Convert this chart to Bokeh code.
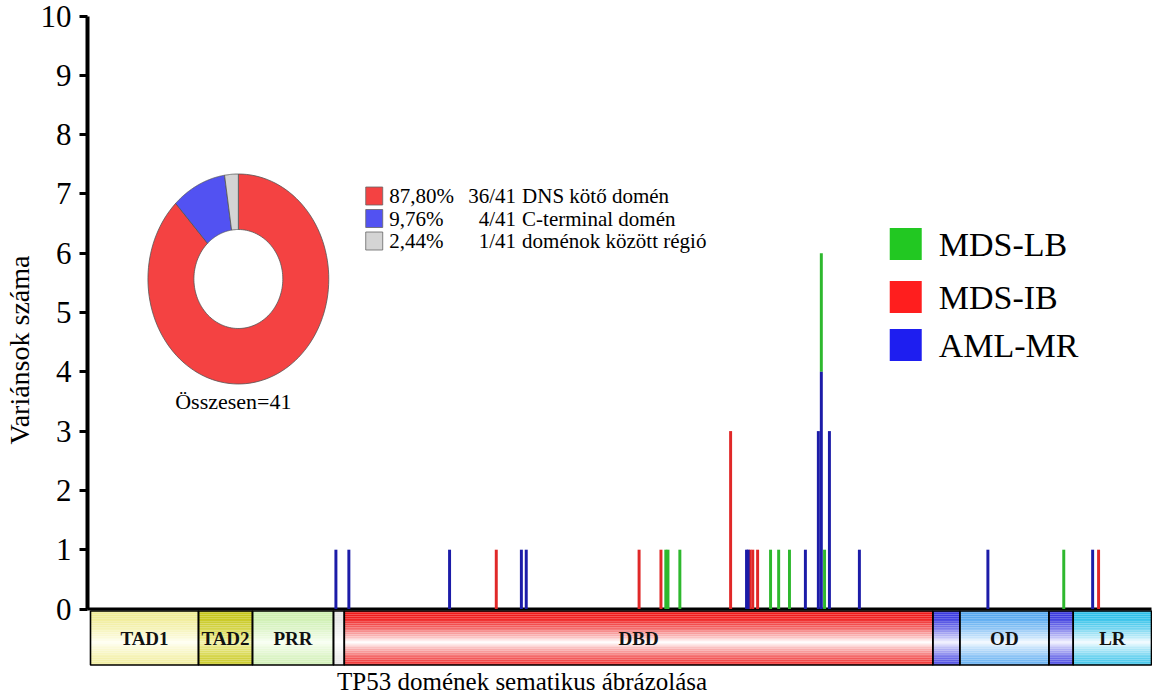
import numpy as np
from bokeh.plotting import figure
from bokeh.models import Range1d, FixedTicker, ColumnDataSource
from bokeh.core.properties import value
from bokeh.embed import file_html
from bokeh.resources import INLINE

# ---------------- data ----------------
# variant positions (amino-acid scale of the schematic), counts and groups
variant_pos = [90.9, 95.7, 133.0, 150.3, 159.6, 161.4, 203.2, 211.3, 213.1, 213.9,
               218.3, 237.1, 243.0, 243.6, 244.3, 245.3, 247.1, 251.9, 254.9, 258.9,
               264.8, 269.6, 270.7, 270.7, 271.9, 273.7, 284.8, 332.4, 360.5, 371.2, 373.4]
variant_count = [1, 1, 1, 1, 1, 1, 1, 1, 1, 1,
                 1, 3, 1, 1, 1, 1, 1, 1, 1, 1,
                 1, 3, 4, 2, 1, 3, 1, 1, 1, 1, 1]
variant_group = ["AML-MR", "AML-MR", "AML-MR", "MDS-IB", "AML-MR", "AML-MR", "MDS-IB", "MDS-IB", "MDS-LB", "MDS-LB",
                 "MDS-LB", "MDS-IB", "AML-MR", "AML-MR", "MDS-IB", "MDS-IB", "MDS-IB", "MDS-LB", "MDS-LB", "MDS-LB",
                 "AML-MR", "AML-MR", "AML-MR", "MDS-LB", "MDS-LB", "AML-MR", "AML-MR", "AML-MR", "MDS-LB", "AML-MR", "MDS-IB"]
groups = ["MDS-LB", "MDS-IB", "AML-MR"]

# TP53 domains (schematic)
domain_names = ["TAD1", "TAD2", "PRR", "", "DBD", "", "OD", "", "LR"]
domain_start = [0, 40, 60, 90, 94, 312, 322, 355, 364]
domain_end = [40, 60, 90, 94, 312, 322, 355, 364, 393]

# donut
pie_names = ["DNS kötő domén", "C-terminal domén", "doménok között régió"]
pie_counts = [36, 4, 1]

y_ticks = [0, 1, 2, 3, 4, 5, 6, 7, 8, 9, 10]

# ---------------- styles / layout ----------------
SERIF = "Liberation Serif"
bar_colors = {"MDS-LB": "#2eb82e", "MDS-IB": "#e02828", "AML-MR": "#1c1ca8"}
legend_colors = {"MDS-LB": "#22c822", "MDS-IB": "#ff1e1e", "AML-MR": "#1e1ef0"}
pie_colors = ["#f44242", "#5252f2", "#d4d4d4"]
domain_colors = [("#f0ec96", "#fffff2"), ("#c6c61c", "#f2f2a4"), ("#cdeeb0", "#f8fff2"),
                 ("#e6e6e6", "#ffffff"), ("#ee1c1c", "#ffffff"), ("#3c3ce0", "#f2f2ff"),
                 ("#56a8f0", "#f2f9ff"), ("#3c3ce0", "#f2f2ff"), ("#2ec0e8", "#f2fbff")]

# layout in picture pixels
CX0, CY0 = 4, 1.5          # observed canvas origin in the picture
W, H = 1152, 695
BL, BT = 86, 4
X0PX, XENDPX = 93, 1155    # x = 0 and x = 393
SX = (XENDPX - X0PX) / domain_end[-1]
Y0PX, Y10PX = 610, 17
SY = (Y0PX - Y10PX) / 10.0


def lx(px):  # layout helper: picture pixel -> x
    return (px - X0PX) / SX


def ly(py):  # layout helper: picture pixel -> y
    return (Y0PX - py) / SY


p = figure(width=W, height=H, output_backend="svg", toolbar_location=None,
           x_axis_location=None, min_border_left=BL, min_border_right=0,
           min_border_top=BT, min_border_bottom=0,
           x_range=Range1d(lx(CX0 + BL), lx(CX0 + W)),
           y_range=Range1d(ly(CY0 + H), ly(CY0 + BT)))
p.outline_line_color = None
p.xgrid.visible = False
p.ygrid.visible = False
p.background_fill_color = "white"

# y axis
ax = p.yaxis[0]
ax.ticker = FixedTicker(ticks=y_ticks)
ax.bounds = (0, 10)
ax.axis_line_width = 4
ax.major_tick_line_width = 3
ax.major_tick_out = 8
ax.major_tick_in = 0
ax.minor_tick_line_color = None
ax.major_label_text_font = SERIF
ax.major_label_text_font_size = "31px"
ax.major_label_text_color = "black"
ax.major_label_standoff = 8
ax.axis_label = "Variánsok száma"
ax.axis_label_text_font = SERIF
ax.axis_label_text_font_style = "normal"
ax.axis_label_text_font_size = "28px"
ax.axis_label_text_color = "black"
ax.axis_label_standoff = 3

# ---------------- domain bar ----------------
bar_top, bar_bot = ly(612), ly(666)
nstrip = 30
L, R, T, B, C = [], [], [], [], []


def mix(c1, c2, m):
    a = [int(c1[i:i + 2], 16) for i in (1, 3, 5)]
    b = [int(c2[i:i + 2], 16) for i in (1, 3, 5)]
    return "#%02x%02x%02x" % tuple(int(round(a[k] + (b[k] - a[k]) * m)) for k in range(3))


for i in range(len(domain_start)):
    edge, mid = domain_colors[i]
    for k in range(nstrip):
        t = (k + 0.5) / nstrip
        m = max(0.0, 1 - abs(t - 0.58) / 0.5) ** 1.4
        L.append(domain_start[i]); R.append(domain_end[i])
        T.append(bar_top + (bar_bot - bar_top) * k / nstrip)
        B.append(bar_top + (bar_bot - bar_top) * (k + 1) / nstrip)
        C.append(mix(edge, mid, m))
p.quad(left=L, right=R, top=T, bottom=B, fill_color=C, line_color=None)
p.quad(left=domain_start, right=domain_end, top=bar_top, bottom=bar_bot,
       fill_color=None, line_color="black", line_width=1.6)
lab_x = [(s + e) / 2 for s, e, n in zip(domain_start, domain_end, domain_names) if n]
lab_t = [n for n in domain_names if n]
p.text(x=lab_x, y=[(bar_top + bar_bot) / 2] * len(lab_x), text=lab_t,
       text_font=value("Liberation Sans Narrow"), text_font_style="bold",
       text_font_size="19px", text_align="center", text_baseline="middle", text_color="#111111")

# baseline
p.segment(x0=[lx(87)], x1=[domain_end[-1]], y0=[0], y1=[0], line_color="black", line_width=3)

p.text(x=[lx(525)], y=[ly(682)], text=["TP53 domének sematikus ábrázolása"], text_font=value(SERIF),
       text_font_size="25px", text_align="center", text_baseline="middle", text_color="black")

# ---------------- variant bars (stacked per position) ----------------
stack = {}
bottoms, tops = [], []
for pos, cnt in zip(variant_pos, variant_count):
    b0 = stack.get(pos, 0)
    bottoms.append(b0); tops.append(b0 + cnt)
    stack[pos] = b0 + cnt
for g in groups:
    idx = [i for i, gg in enumerate(variant_group) if gg == g]
    src = ColumnDataSource(dict(x=[variant_pos[i] for i in idx], b=[bottoms[i] for i in idx],
                                t=[tops[i] for i in idx]))
    p.vbar(x="x", bottom="b", top="t", width=1.1, source=src, fill_color=bar_colors[g],
           line_color=None)

# group legend (drawn manually)
leg_rows_px = [245, 298, 346]
p.rect(x=[lx(909)] * 3, y=[ly(v) for v in leg_rows_px], width=32, height=32,
       width_units="screen", height_units="screen",
       fill_color=[legend_colors[g] for g in groups], line_color=None)
p.text(x=[lx(942)] * 3, y=[ly(v) for v in leg_rows_px], text=groups, text_font=value(SERIF),
       text_font_size="34px", text_align="left", text_baseline="middle", text_color="black")

# ---------------- donut ----------------
cx, cy = lx(241), ly(280)
rx_o, ry_o = 90.5 / SX, 105 / SY
rx_i, ry_i = 44.5 / SX, 49.5 / SY
total = sum(pie_counts)
cum = 0
for i, c in enumerate(pie_counts):
    a0 = np.pi / 2 - 2 * np.pi * cum / total
    a1 = np.pi / 2 - 2 * np.pi * (cum + c) / total
    cum += c
    th = np.linspace(a0, a1, 120)
    xs = list(cx + rx_o * np.cos(th)) + list(cx + rx_i * np.cos(th[::-1]))
    ys = list(cy + ry_o * np.sin(th)) + list(cy + ry_i * np.sin(th[::-1]))
    p.patch(xs, ys, fill_color=pie_colors[i], line_color="#555555", line_width=0.8)

# donut legend (drawn manually)
pie_rows_px = [197, 219.5, 242]
pcts = [("%.2f%%" % (100 * c / total)).replace(".", ",") for c in pie_counts]
fracs = [f"{c}/{total}" for c in pie_counts]
p.rect(x=[lx(377)] * 3, y=[ly(v) for v in pie_rows_px], width=17, height=18,
       width_units="screen", height_units="screen", fill_color=pie_colors,
       line_color="#666666", line_width=0.8)
p.text(x=[lx(392)] * 3, y=[ly(v) for v in pie_rows_px], text=pcts, text_font=value(SERIF),
       text_font_size="21px", text_align="left", text_baseline="middle", text_color="black")
p.text(x=[lx(519)] * 3, y=[ly(v) for v in pie_rows_px], text=fracs, text_font=value(SERIF),
       text_font_size="21px", text_align="right", text_baseline="middle", text_color="black")
p.text(x=[lx(525)] * 3, y=[ly(v) for v in pie_rows_px], text=pie_names, text_font=value(SERIF),
       text_font_size="21px", text_align="left", text_baseline="middle", text_color="black")

p.text(x=[lx(236)], y=[ly(402)], text=[f"Összesen={total}"], text_font=value(SERIF),
       text_font_size="22px", text_align="center", text_baseline="middle", text_color="black")

open("out.html", "w").write(file_html(p, INLINE))
